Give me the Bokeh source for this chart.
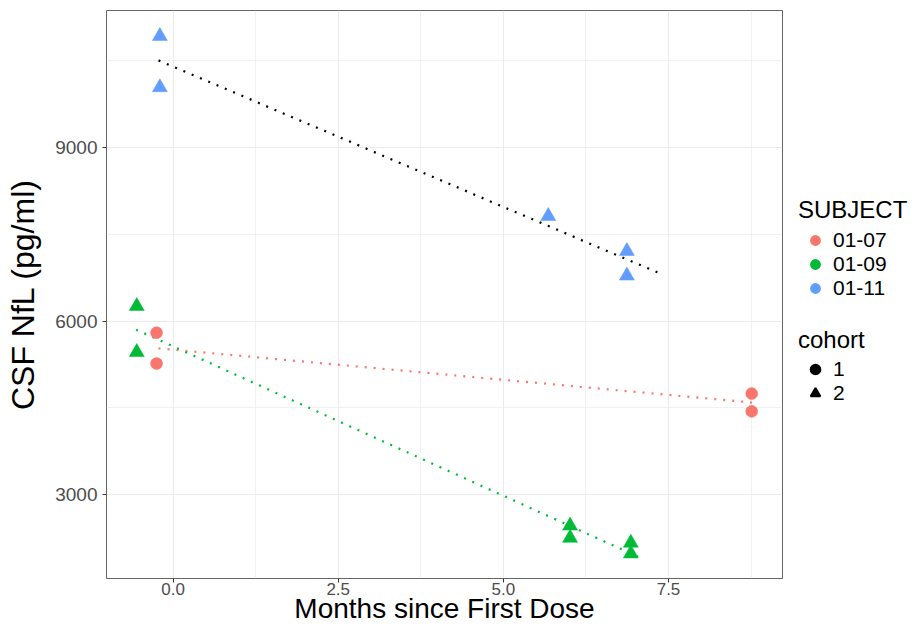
import numpy as np
from bokeh.plotting import figure
from bokeh.layouts import row
from bokeh.models import (Range1d, FixedTicker, PrintfTickFormatter, Legend,
                          LegendItem, ColumnDataSource)
from bokeh.embed import file_html
from bokeh.resources import INLINE

# ---------------- data ----------------
subjects = ["01-07", "01-09", "01-11"]
subject_colors = ["#F8766D", "#00BA38", "#619CFF"]
trend_colors = ["#F8766D", "#00BA38", "#000000"]
subject_cohort = ["1", "2", "2"]
cohorts = ["1", "2"]
cohort_markers = ["circle", "triangle"]

months_0107 = [-0.25, -0.25, 8.76, 8.76]
nfl_0107 = [5800, 5266, 4747, 4440]
months_0109 = [-0.55, -0.55, 6.01, 6.01, 6.93, 6.93]
nfl_0109 = [6258, 5464, 2462, 2251, 2166, 1981]
months_0111 = [-0.20, -0.20, 5.68, 6.87, 6.87]
nfl_0111 = [10928, 10043, 7817, 7210, 6785]

trend_from = [-0.22, -0.56, -0.22]
trend_to = [8.82, 7.07, 7.37]

x_ticks = [0.0, 2.5, 5.0, 7.5]
y_ticks = [3000, 6000, 9000]
x_title = "Months since First Dose"
y_title = "CSF NfL (pg/ml)"
legend_titles = ["SUBJECT", "cohort"]

months = [months_0107, months_0109, months_0111]
nfl = [nfl_0107, nfl_0109, nfl_0111]

FONT = "Liberation Sans"
H = 627

p = figure(width=792, height=H, title=None,
           x_range=Range1d(-1.008, 9.226), y_range=Range1d(1550, 11372),
           output_backend="svg", toolbar_location=None,
           min_border_left=106, min_border_right=10,
           min_border_top=10, min_border_bottom=49)

p.background_fill_color = "white"
p.border_fill_color = "white"
p.outline_line_color = "#666666"
p.outline_line_width = 1

# axes
p.xaxis.ticker = FixedTicker(ticks=x_ticks, minor_ticks=[t + 1.25 for t in x_ticks])
p.yaxis.ticker = FixedTicker(ticks=y_ticks, minor_ticks=[t + 1500 for t in y_ticks])
p.xaxis.formatter = PrintfTickFormatter(format="%.1f")
p.yaxis.formatter = PrintfTickFormatter(format="%d")
for ax in (p.xaxis[0], p.yaxis[0]):
    ax.axis_line_color = None
    ax.major_tick_line_color = "#333333"
    ax.major_tick_line_width = 1
    ax.major_tick_out = 4
    ax.major_tick_in = 0
    ax.minor_tick_line_color = None
    ax.major_label_text_font = FONT
    ax.major_label_text_color = "#4D4D4D"
    ax.axis_label_text_font = FONT
    ax.axis_label_text_font_style = "normal"
    ax.axis_label_text_color = "black"
p.xaxis.major_label_text_font_size = "17px"
p.yaxis.major_label_text_font_size = "19px"
p.xaxis.major_label_standoff = 0
p.yaxis.major_label_standoff = 5

p.yaxis.axis_label = y_title
p.yaxis.axis_label_text_font_size = "32px"
p.yaxis.axis_label_standoff = 11

p.xaxis.axis_label = x_title
p.xaxis.axis_label_text_font_size = "28px"
p.xaxis.axis_label_standoff = -5

# grid
for g in (p.xgrid[0], p.ygrid[0]):
    g.grid_line_color = "#EBEBEB"
    g.grid_line_width = 1.1
    g.minor_grid_line_color = "#EBEBEB"
    g.minor_grid_line_width = 0.7

# trend lines (linear fits)
for i in range(len(subjects)):
    slope, intercept = np.polyfit(months[i], nfl[i], 1)
    xs = [trend_from[i], trend_to[i]]
    ys = [intercept + slope * trend_from[i], intercept + slope * trend_to[i]]
    p.line(xs, ys, line_color=trend_colors[i], line_width=2.2, line_dash="2 7")

# points
for i in range(len(subjects)):
    m = cohort_markers[cohorts.index(subject_cohort[i])]
    src = ColumnDataSource(dict(x=months[i], y=nfl[i]))
    size = 12 if m == "circle" else 15
    p.scatter("x", "y", source=src, marker=m, size=size,
              fill_color=subject_colors[i], line_color=subject_colors[i], line_width=0.5)

# ---------------- legend panel ----------------
lg = figure(width=116, height=H, title=None, x_axis_type=None, y_axis_type=None,
            output_backend="svg", toolbar_location=None,
            min_border=0, min_border_left=0, min_border_right=0,
            min_border_top=0, min_border_bottom=0,
            x_range=Range1d(0, 1), y_range=Range1d(0, 1))
lg.outline_line_color = None
lg.background_fill_color = "white"
lg.border_fill_color = "white"


def make_legend(title, items, loc, item_h, line_h, standoff):
    return Legend(items=items, title=title, location=loc,
                  title_text_font=FONT, title_text_font_size="24px",
                  title_text_font_style="normal", title_text_color="black",
                  title_standoff=standoff,
                  label_text_font=FONT, label_text_font_size="21px",
                  label_text_line_height=line_h,
                  label_text_color="black",
                  glyph_width=34, glyph_height=item_h, label_height=item_h,
                  label_standoff=1, spacing=0, padding=0, margin=0,
                  border_line_color=None, background_fill_alpha=0)


# invisible placeholder sources so the legend keys can be drawn
blank = dict(x=np.array([np.nan]), y=np.array([np.nan]))

subj_items = []
for i in range(len(subjects)):
    r = lg.scatter("x", "y", source=ColumnDataSource(blank), marker="circle", size=10,
                   fill_color=subject_colors[i], line_color=subject_colors[i], line_width=2)
    subj_items.append(LegendItem(label=subjects[i], renderers=[r]))
coh_items = []
for j in range(len(cohorts)):
    r = lg.scatter("x", "y", source=ColumnDataSource(blank), marker=cohort_markers[j], size=10,
                   fill_color="black", line_color="black", line_width=2)
    coh_items.append(LegendItem(label=cohorts[j], renderers=[r]))

lg.add_layout(make_legend(legend_titles[0], subj_items, (6, 278), 22, 1.05, 4))
lg.add_layout(make_legend(legend_titles[1], coh_items, (6, 173), 24, 1.13, 3))

layout = row(p, lg, spacing=0)
open("out.html", "w").write(file_html(layout, INLINE, "CSF NfL"))
